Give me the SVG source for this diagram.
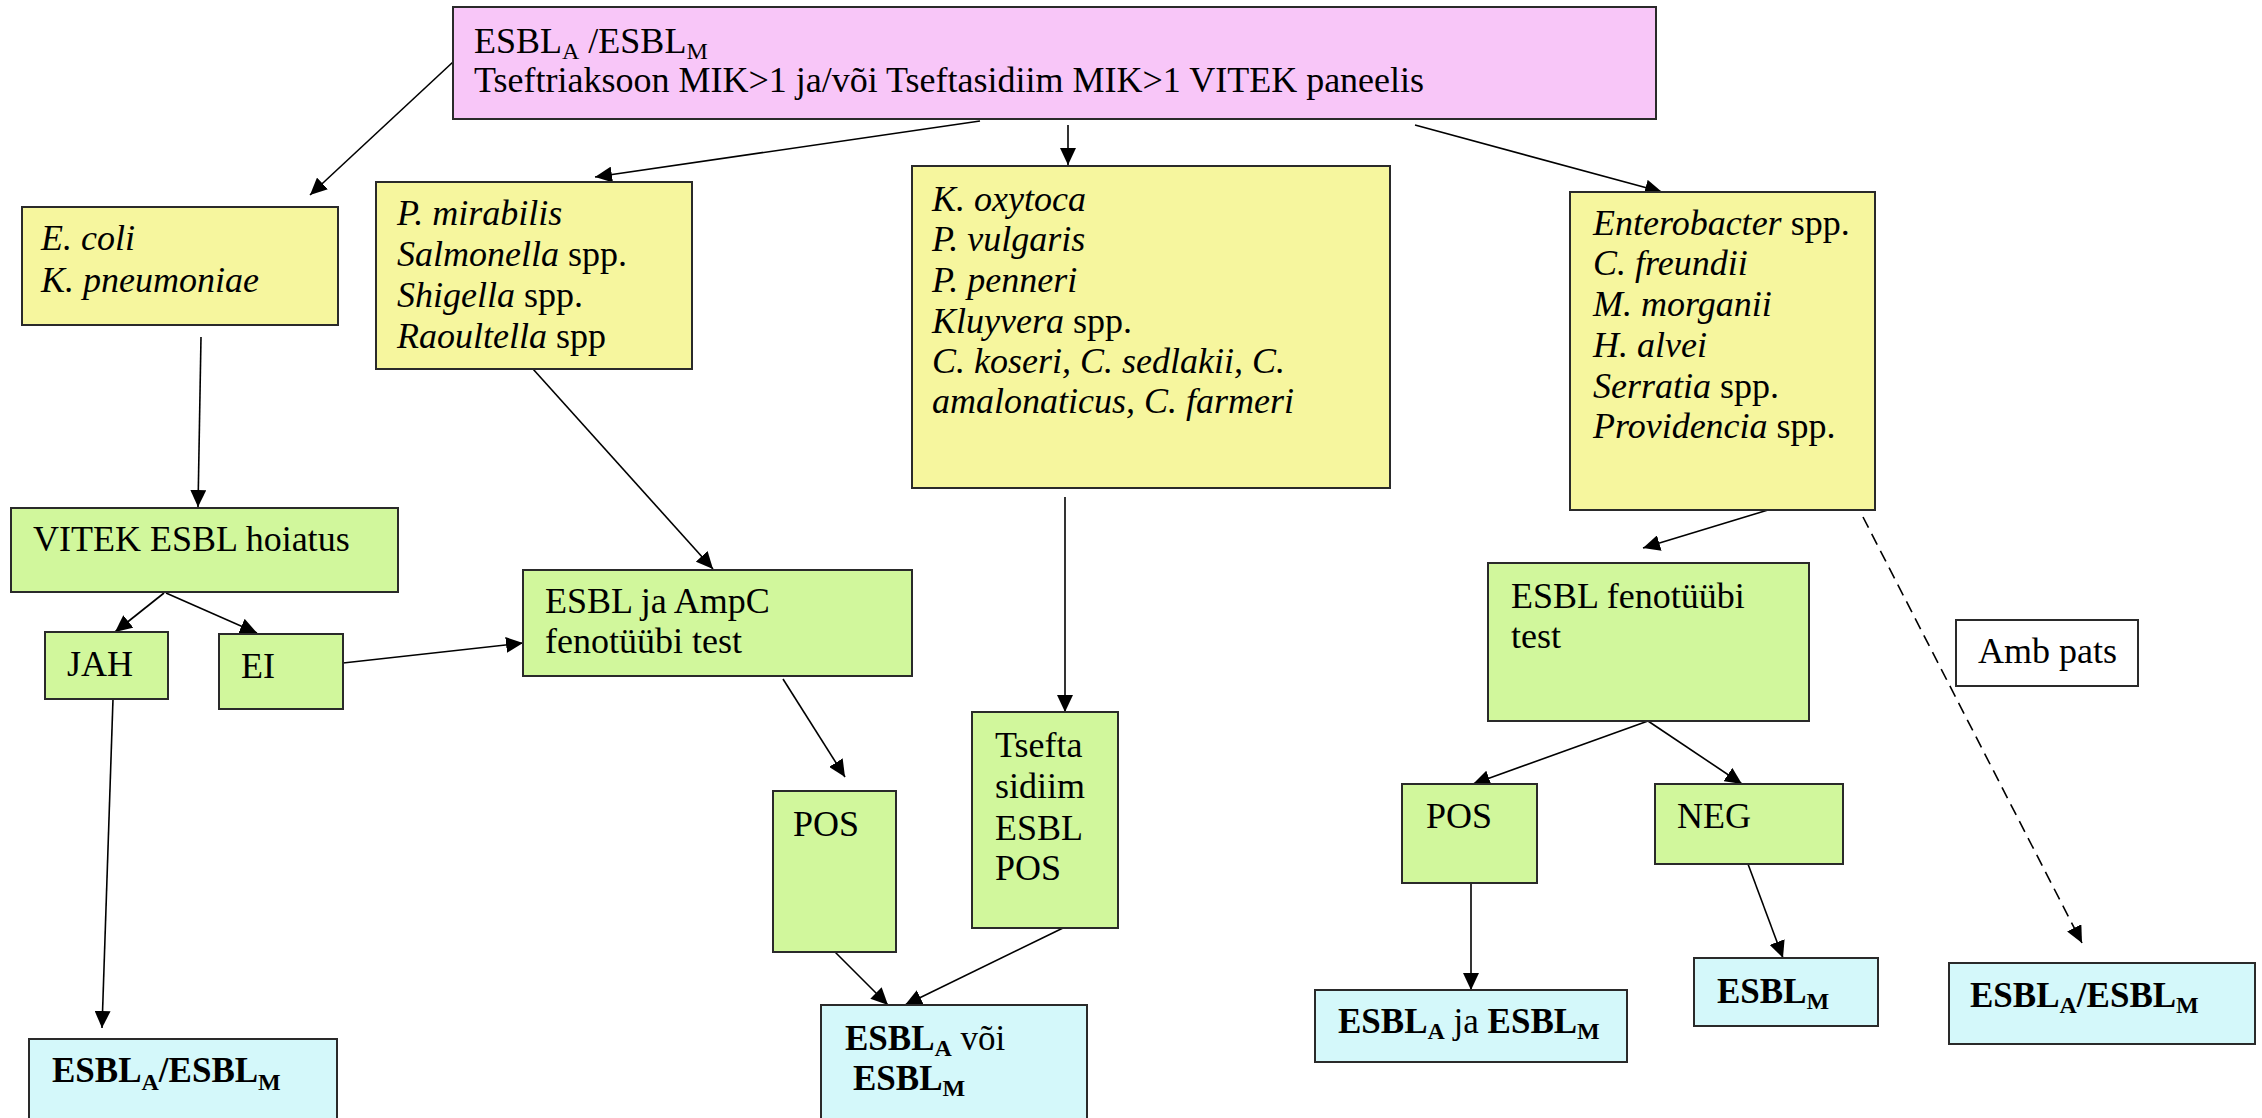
<svg xmlns="http://www.w3.org/2000/svg" width="2262" height="1118" viewBox="0 0 2262 1118">
<style>
.box{stroke:#2a2a2a;stroke-width:2}
.pink{fill:#F8C6F8}.yellow{fill:#F6F69E}.green{fill:#D1F79C}.cyan{fill:#D4F8FA}.white{fill:#FFFFFF}
text{font-family:"Liberation Serif","Times New Roman",serif;font-size:36px;fill:#000}
.it{font-style:italic}
.b{font-weight:bold;font-size:35px}
.sub{font-size:24px}
#connectors line{stroke:#000;stroke-width:1.6;fill:none;marker-end:url(#arr)}
#connectors line.dash{stroke-dasharray:12 7}
</style>
<defs>
<marker id="arr" markerUnits="userSpaceOnUse" markerWidth="18" markerHeight="16" refX="17" refY="8" orient="auto">
<path d="M0,0 L17,8 L0,16 z" fill="#000"/>
</marker>
</defs>
<rect width="2262" height="1118" fill="#fff"/>

<g id="connectors">
<line x1="453" y1="62" x2="310" y2="195"/>
<line x1="980" y1="121" x2="595" y2="177"/>
<line x1="1068" y1="125" x2="1068" y2="165"/>
<line x1="1415" y1="125" x2="1662" y2="192"/>
<line x1="201" y1="337" x2="198" y2="507"/>
<line x1="164" y1="593" x2="115" y2="632"/>
<line x1="166" y1="593" x2="257" y2="633"/>
<line x1="343" y1="663" x2="523" y2="643"/>
<line x1="113" y1="699" x2="102" y2="1028"/>
<line x1="533" y1="369" x2="713" y2="569"/>
<line x1="783" y1="679" x2="845" y2="777"/>
<line x1="1065" y1="497" x2="1065" y2="712"/>
<line x1="835" y1="952" x2="888" y2="1005"/>
<line x1="1063" y1="928" x2="905" y2="1005"/>
<line x1="1768" y1="510" x2="1643" y2="548"/>
<line class="dash" x1="1863" y1="517" x2="2082" y2="943"/>
<line x1="1648" y1="721" x2="1473" y2="784"/>
<line x1="1648" y1="721" x2="1742" y2="784"/>
<line x1="1471" y1="883" x2="1471" y2="990"/>
<line x1="1748" y1="864" x2="1783" y2="958"/>
</g>

<g id="n-top">
<rect class="box pink" x="453" y="7" width="1203" height="112"/>
<text x="474" y="53">ESBL<tspan class="sub" dy="6">A</tspan><tspan dy="-6"> /ESBL</tspan><tspan class="sub" dy="6">M</tspan></text>
<text x="474" y="92">Tseftriaksoon MIK&gt;1 ja/või Tseftasidiim MIK&gt;1 VITEK paneelis</text>
</g>

<g id="n-ecoli">
<rect class="box yellow" x="22" y="207" width="316" height="118"/>
<text class="it" x="41" y="250">E. coli</text>
<text class="it" x="41" y="292">K. pneumoniae</text>
</g>

<g id="n-pmirabilis">
<rect class="box yellow" x="376" y="182" width="316" height="187"/>
<text x="397" y="225"><tspan class="it">P. mirabilis</tspan></text>
<text x="397" y="266"><tspan class="it">Salmonella</tspan> spp.</text>
<text x="397" y="307"><tspan class="it">Shigella</tspan> spp.</text>
<text x="397" y="348"><tspan class="it">Raoultella</tspan> spp</text>
</g>

<g id="n-koxytoca">
<rect class="box yellow" x="912" y="166" width="478" height="322"/>
<text class="it" x="932" y="211">K. oxytoca</text>
<text class="it" x="932" y="251">P. vulgaris</text>
<text class="it" x="932" y="292">P. penneri</text>
<text x="932" y="333"><tspan class="it">Kluyvera</tspan> spp.</text>
<text class="it" x="932" y="373">C. koseri, C. sedlakii, C.</text>
<text class="it" x="932" y="413">amalonaticus, C. farmeri</text>
</g>

<g id="n-enterobacter">
<rect class="box yellow" x="1570" y="192" width="305" height="318"/>
<text x="1593" y="235"><tspan class="it">Enterobacter</tspan> spp.</text>
<text class="it" x="1593" y="275">C. freundii</text>
<text class="it" x="1593" y="316">M. morganii</text>
<text class="it" x="1593" y="357">H. alvei</text>
<text x="1593" y="398"><tspan class="it">Serratia</tspan> spp.</text>
<text x="1593" y="438"><tspan class="it">Providencia</tspan> spp.</text>
</g>

<g id="n-vitek">
<rect class="box green" x="11" y="508" width="387" height="84"/>
<text x="33" y="551">VITEK ESBL hoiatus</text>
</g>

<g id="n-jah">
<rect class="box green" x="45" y="632" width="123" height="67"/>
<text x="67" y="676">JAH</text>
</g>

<g id="n-ei">
<rect class="box green" x="219" y="634" width="124" height="75"/>
<text x="241" y="678">EI</text>
</g>

<g id="n-ampc">
<rect class="box green" x="523" y="570" width="389" height="106"/>
<text x="545" y="613">ESBL ja AmpC</text>
<text x="545" y="653">fenotüübi test</text>
</g>

<g id="n-pos1">
<rect class="box green" x="773" y="791" width="123" height="161"/>
<text x="793" y="836">POS</text>
</g>

<g id="n-tsefta">
<rect class="box green" x="972" y="712" width="146" height="216"/>
<text x="995" y="757">Tsefta</text>
<text x="995" y="798">sidiim</text>
<text x="995" y="840">ESBL</text>
<text x="995" y="880">POS</text>
</g>

<g id="n-esblfen">
<rect class="box green" x="1488" y="563" width="321" height="158"/>
<text x="1511" y="608">ESBL fenotüübi</text>
<text x="1511" y="648">test</text>
</g>

<g id="n-amb">
<rect class="box white" x="1956" y="620" width="182" height="66"/>
<text x="1978" y="663">Amb pats</text>
</g>

<g id="n-pos2">
<rect class="box green" x="1402" y="784" width="135" height="99"/>
<text x="1426" y="828">POS</text>
</g>

<g id="n-neg">
<rect class="box green" x="1655" y="784" width="188" height="80"/>
<text x="1677" y="828">NEG</text>
</g>

<g id="n-res1">
<rect class="box cyan" x="29" y="1039" width="308" height="100"/>
<text class="b" x="52" y="1082">ESBL<tspan class="sub" dy="8">A</tspan><tspan dy="-8">/ESBL</tspan><tspan class="sub" dy="8">M</tspan></text>
</g>

<g id="n-res2">
<rect class="box cyan" x="821" y="1005" width="266" height="130"/>
<text class="b" x="845" y="1050">ESBL<tspan class="sub" dy="6">A</tspan><tspan dy="-6" font-weight="normal"> või</tspan></text>
<text class="b" x="853" y="1090">ESBL<tspan class="sub" dy="6">M</tspan></text>
</g>

<g id="n-res3">
<rect class="box cyan" x="1315" y="990" width="312" height="72"/>
<text class="b" x="1338" y="1033">ESBL<tspan class="sub" dy="6">A</tspan><tspan dy="-6" font-weight="normal"> ja </tspan>ESBL<tspan class="sub" dy="6">M</tspan></text>
</g>

<g id="n-res4">
<rect class="box cyan" x="1694" y="958" width="184" height="68"/>
<text class="b" x="1717" y="1003">ESBL<tspan class="sub" dy="6">M</tspan></text>
</g>

<g id="n-res5">
<rect class="box cyan" x="1949" y="963" width="306" height="81"/>
<text class="b" x="1970" y="1007">ESBL<tspan class="sub" dy="6">A</tspan><tspan dy="-6">/ESBL</tspan><tspan class="sub" dy="6">M</tspan></text>
</g>
</svg>
